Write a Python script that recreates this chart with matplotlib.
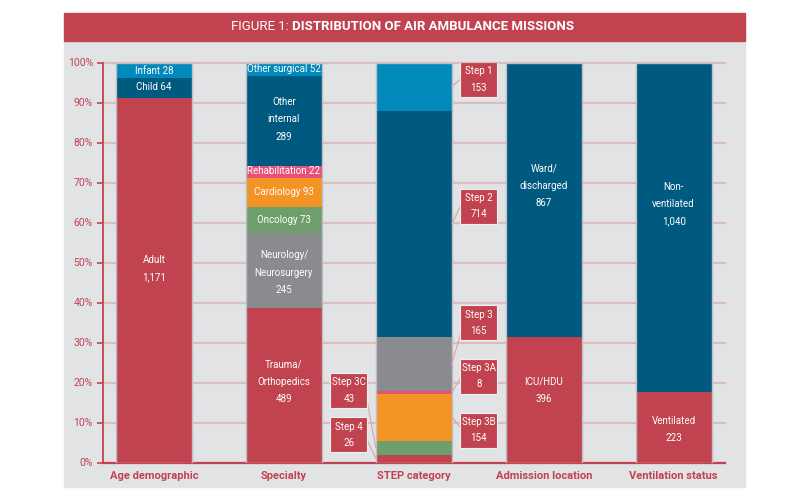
import matplotlib.pyplot as plt
from matplotlib.patches import Rectangle

# categories along the x axis
categories = ['Age demographic', 'Specialty', 'STEP category',
              'Admission location', 'Ventilation status']

# stacked segments per category, bottom to top
age_labels = ['Adult', 'Child', 'Infant']
age_pct = [91.1, 5.0, 3.9]
age_counts = [1171, 64, 28]

spec_labels = ['Trauma/\nOrthopedics', 'Neurology/\nNeurosurgery', 'Oncology',
               'Cardiology', 'Rehabilitation', 'Other\ninternal', 'Other surgical']
spec_pct = [38.6, 18.8, 6.4, 7.4, 3.0, 22.4, 3.4]
spec_counts = [489, 245, 73, 93, 22, 289, 52]

step_labels = ['Step 4', 'Step 3C', 'Step 3B', 'Step 3A', 'Step 3', 'Step 2', 'Step 1']
step_pct = [2.0, 3.5, 11.7, 0.8, 13.3, 56.7, 12.0]
step_counts = [26, 43, 154, 8, 165, 714, 153]

adm_labels = ['ICU/HDU', 'Ward/\ndischarged']
adm_pct = [31.3, 68.7]
adm_counts = [396, 867]

vent_labels = ['Ventilated', 'Non-\nventilated']
vent_pct = [17.6, 82.4]
vent_counts = [223, 1040]

RED = '#C1434F'
DBLUE = '#005A80'
LBLUE = '#0089BA'
GRAY = '#8A8B8F'
GREEN = '#6E9E6B'
ORANGE = '#F39424'
PINK = '#E8507A'
PANEL = '#E2E3E5'
GRID = '#DDBCBF'

age_colors = [RED, DBLUE, LBLUE]
spec_colors = [RED, GRAY, GREEN, ORANGE, PINK, DBLUE, LBLUE]
step_colors = [RED, GREEN, ORANGE, PINK, GRAY, DBLUE, LBLUE]
two_colors = [RED, DBLUE]

plt.rcParams['font.family'] = ['Roboto', 'DejaVu Sans']

fig = plt.figure(figsize=(8, 5), dpi=100)
fig.patch.set_facecolor('white')

# background panel and title band
fig.patches.append(Rectangle((63.5 / 800, 1 - 487 / 500), 681 / 800, 446 / 500,
                             transform=fig.transFigure, color=PANEL, zorder=-2))
fig.patches.append(Rectangle((63.5 / 800, 1 - 40.7 / 500), 681 / 800, 28 / 500,
                             transform=fig.transFigure, color=RED, zorder=-1))
t1 = fig.text(0.5, 1 - 26.5 / 500, 'FIGURE 1: ', color='white', fontsize=9.5,
              ha='left', va='center')
t2 = fig.text(0.5, 1 - 26.5 / 500, 'DISTRIBUTION OF AIR AMBULANCE MISSIONS',
              color='white', fontsize=9.5, fontweight='bold', ha='left', va='center')
r = fig.canvas.get_renderer()
w1 = t1.get_window_extent(r).width
w2 = t2.get_window_extent(r).width
x0 = 403 - (w1 + w2) / 2
t1.set_x(x0 / 800)
t2.set_x((x0 + w1) / 800)

ax = fig.add_axes([102.7 / 800, 1 - 462.5 / 500, 622.3 / 800, 400 / 500])
ax.set_facecolor('none')

width = 0.585
stacks = [
    (age_labels, age_pct, age_counts, age_colors),
    (spec_labels, spec_pct, spec_counts, spec_colors),
    (step_labels, step_pct, step_counts, step_colors),
    (adm_labels, adm_pct, adm_counts, two_colors),
    (vent_labels, vent_pct, vent_counts, two_colors),
]

# where the in-bar labels sit (percent), per bar
label_y = [
    [48.4, 94.0, 98.0],
    [20.2, 47.5, 60.6, 67.6, 72.8, 85.8, 98.3],
    None,
    [18.0, 69.2],
    [8.3, 64.6],
]
# labels whose count goes on a separate line even without a break in the name
stacked_names = {'Adult', 'ICU/HDU', 'Ventilated'}

mids = []
for i, (labels, pct, counts, colors) in enumerate(stacks):
    bottom = 0
    seg_mids = []
    for j, (p, c) in enumerate(zip(pct, colors)):
        ax.bar(i, p, width, bottom=bottom, color=c, linewidth=0, zorder=3)
        seg_mids.append(bottom + p / 2)
        bottom += p
    ax.bar(i, bottom, width, fill=False, edgecolor='#BDBEC3', linewidth=1.0, zorder=3.5)
    mids.append(seg_mids)
    if label_y[i] is None:
        continue
    for j, lab in enumerate(labels):
        n = f'{counts[j]:,}'
        if '\n' in lab or lab in stacked_names:
            txt = f'{lab}\n{n}'
        else:
            txt = f'{lab} {n}'
        ax.text(i, label_y[i][j], txt, color='white', fontsize=7,
                ha='center', va='center', linespacing=1.9, zorder=5)

# STEP callout boxes: (x center, y center) in data units, and where the leader meets the box
box_pos = [(1.5, 6.9), (1.5, 18.0), (2.5, 8.1), (2.5, 21.6),
           (2.5, 34.9), (2.5, 64.1), (2.5, 95.75)]
leader_y = [5.5, 15.0, 8.8, 21.0, 32.0, 64.0, 95.8]
bw, bh = 0.285, 8.75
for j, (lab, n) in enumerate(zip(step_labels, step_counts)):
    bx, by = box_pos[j]
    right = bx > 2
    edge_x = 2 + width / 2 if right else 2 - width / 2
    box_x = bx - bw / 2 if right else bx + bw / 2
    ax.plot([edge_x, box_x], [mids[2][j], leader_y[j]], color='#D9A4A9',
            linewidth=0.8, zorder=4, clip_on=False)
    ax.add_patch(Rectangle((bx - bw / 2, by - bh / 2), bw, bh, facecolor=RED,
                           edgecolor='#F0F0F2', linewidth=0.8, zorder=5))
    ax.text(bx, by, f'{lab}\n{n}', color='white', fontsize=7, ha='center',
            va='center', linespacing=1.8, zorder=6)

ax.set_xlim(-0.395, 4.395)
ax.set_ylim(0, 100)
ax.set_yticks(range(0, 101, 10))
ax.set_yticklabels([f'{v}%' for v in range(0, 101, 10)])
ax.yaxis.grid(True, color=GRID, linewidth=1.6, zorder=0)
ax.set_axisbelow(True)
for gl in ax.get_ygridlines():
    gl.set_clip_on(False)
ax.set_xticks(range(len(categories)))
ax.set_xticklabels(categories, fontweight='bold', fontsize=8, color=RED)
ax.tick_params(axis='x', length=0, pad=6)
ax.tick_params(axis='y', colors=RED, labelsize=7.5, length=4, width=1.2, pad=3)
for s in ['top', 'right']:
    ax.spines[s].set_visible(False)
ax.spines['left'].set_color(RED)
ax.spines['bottom'].set_color(RED)
ax.spines['left'].set_linewidth(1.3)
ax.spines['bottom'].set_linewidth(1.6)
ax.spines['left'].set_zorder(6)

fig.savefig('out.png', dpi=100)
